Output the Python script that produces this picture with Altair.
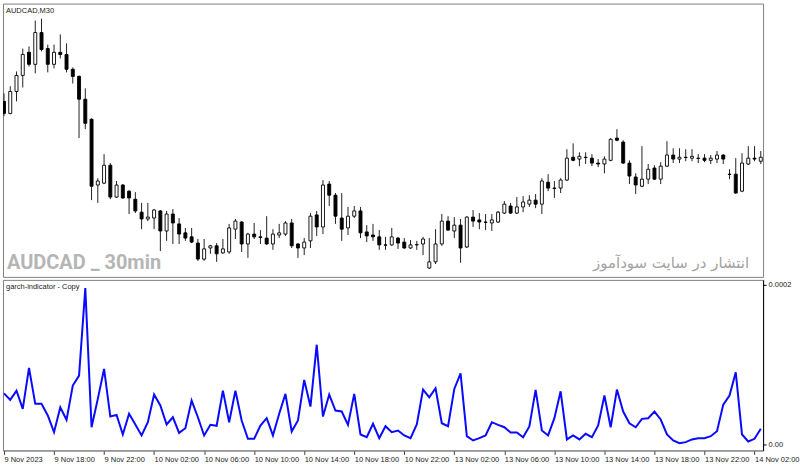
import altair as alt
import pandas as pd

# ---- AUDCAD M30 candles (bar index 0 = 9 Nov 2023 14:00) ----
OPEN = [0.88199, 0.88160, 0.88231, 0.88283, 0.88358, 0.88319, 0.88422, 0.88370, 0.88319, 0.88358,
        0.88351, 0.88303, 0.88280, 0.88206, 0.88141, 0.87928, 0.87934, 0.87992, 0.87889, 0.87928,
        0.87908, 0.87882, 0.87840, 0.87818, 0.87821, 0.87844, 0.87779, 0.87834, 0.87802, 0.87773,
        0.87760, 0.87740, 0.87688, 0.87724, 0.87731, 0.87708, 0.87711, 0.87785, 0.87808, 0.87737,
        0.87769, 0.87760, 0.87756, 0.87737, 0.87766, 0.87769, 0.87805, 0.87737, 0.87724, 0.87747,
        0.87831, 0.87792, 0.87931, 0.87895, 0.87821, 0.87789, 0.87827, 0.87844, 0.87776, 0.87766,
        0.87760, 0.87734, 0.87734, 0.87756, 0.87743, 0.87724, 0.87734, 0.87737, 0.87659, 0.87679,
        0.87737, 0.87811, 0.87779, 0.87798, 0.87727, 0.87824, 0.87815, 0.87808, 0.87805, 0.87808,
        0.87837, 0.87860, 0.87837, 0.87857, 0.87866, 0.87879, 0.87866, 0.87937, 0.87918, 0.87918,
        0.87944, 0.88018, 0.88012, 0.88018, 0.88015, 0.87999, 0.87996, 0.88008, 0.88080, 0.88067,
        0.87999, 0.87954, 0.87924, 0.87947, 0.87983, 0.87947, 0.87989, 0.88025, 0.88012, 0.88018,
        0.88015, 0.88015, 0.88015, 0.88008, 0.88012, 0.88025, 0.87963, 0.87963, 0.87908, 0.87996,
        0.88015, 0.88005]
HIGH = [0.88225, 0.88248, 0.88296, 0.88370, 0.88377, 0.88461, 0.88467, 0.88383, 0.88383, 0.88416,
        0.88387, 0.88309, 0.88283, 0.88241, 0.88144, 0.87950, 0.88028, 0.87999, 0.87941, 0.87931,
        0.87911, 0.87905, 0.87870, 0.87870, 0.87850, 0.87847, 0.87844, 0.87850, 0.87821, 0.87789,
        0.87789, 0.87753, 0.87753, 0.87734, 0.87740, 0.87753, 0.87802, 0.87818, 0.87811, 0.87773,
        0.87805, 0.87782, 0.87827, 0.87785, 0.87802, 0.87811, 0.87818, 0.87740, 0.87756, 0.87837,
        0.87844, 0.87944, 0.87941, 0.87902, 0.87902, 0.87857, 0.87860, 0.87857, 0.87798, 0.87802,
        0.87782, 0.87760, 0.87789, 0.87760, 0.87756, 0.87750, 0.87747, 0.87760, 0.87756, 0.87785,
        0.87834, 0.87827, 0.87824, 0.87818, 0.87827, 0.87847, 0.87837, 0.87834, 0.87834, 0.87844,
        0.87876, 0.87870, 0.87889, 0.87892, 0.87895, 0.87899, 0.87950, 0.87963, 0.87941, 0.87950,
        0.88044, 0.88063, 0.88034, 0.88034, 0.88028, 0.88012, 0.88021, 0.88080, 0.88109, 0.88073,
        0.88008, 0.87966, 0.88054, 0.87996, 0.87992, 0.88002, 0.88070, 0.88047, 0.88047, 0.88044,
        0.88044, 0.88028, 0.88028, 0.88025, 0.88038, 0.88028, 0.87979, 0.88015, 0.88031, 0.88054,
        0.88054, 0.88038]
LOW = [0.88151, 0.88157, 0.88199, 0.88244, 0.88312, 0.88290, 0.88361, 0.88293, 0.88306, 0.88338,
       0.88293, 0.88257, 0.88080, 0.88109, 0.87879, 0.87870, 0.87931, 0.87882, 0.87886, 0.87883,
       0.87834, 0.87837, 0.87785, 0.87811, 0.87785, 0.87714, 0.87747, 0.87737, 0.87737, 0.87747,
       0.87740, 0.87682, 0.87682, 0.87705, 0.87679, 0.87705, 0.87705, 0.87753, 0.87711, 0.87692,
       0.87753, 0.87737, 0.87734, 0.87718, 0.87756, 0.87763, 0.87724, 0.87692, 0.87701, 0.87724,
       0.87763, 0.87769, 0.87860, 0.87802, 0.87747, 0.87766, 0.87821, 0.87756, 0.87743, 0.87747,
       0.87718, 0.87718, 0.87731, 0.87721, 0.87721, 0.87721, 0.87718, 0.87701, 0.87656, 0.87672,
       0.87731, 0.87779, 0.87756, 0.87676, 0.87724, 0.87792, 0.87785, 0.87782, 0.87779, 0.87805,
       0.87834, 0.87834, 0.87834, 0.87840, 0.87857, 0.87853, 0.87834, 0.87908, 0.87886, 0.87902,
       0.87941, 0.88005, 0.87989, 0.87996, 0.87989, 0.87986, 0.87966, 0.88005, 0.88070, 0.87996,
       0.87931, 0.87899, 0.87921, 0.87931, 0.87944, 0.87931, 0.87986, 0.87999, 0.87999, 0.88005,
       0.88005, 0.87999, 0.88002, 0.87996, 0.87999, 0.87996, 0.87947, 0.87899, 0.87905, 0.87993,
       0.88005, 0.87996]
CLOSE = [0.88160, 0.88231, 0.88283, 0.88351, 0.88319, 0.88422, 0.88367, 0.88319, 0.88358, 0.88351,
         0.88303, 0.88280, 0.88206, 0.88128, 0.87924, 0.87941, 0.87992, 0.87889, 0.87928, 0.87886,
         0.87886, 0.87844, 0.87818, 0.87824, 0.87847, 0.87779, 0.87834, 0.87805, 0.87769, 0.87756,
         0.87743, 0.87688, 0.87721, 0.87731, 0.87705, 0.87721, 0.87789, 0.87811, 0.87737, 0.87769,
         0.87760, 0.87758, 0.87737, 0.87769, 0.87773, 0.87805, 0.87731, 0.87724, 0.87743, 0.87827,
         0.87792, 0.87928, 0.87895, 0.87827, 0.87785, 0.87827, 0.87844, 0.87773, 0.87763, 0.87760,
         0.87734, 0.87733, 0.87760, 0.87740, 0.87724, 0.87734, 0.87735, 0.87753, 0.87679, 0.87737,
         0.87811, 0.87782, 0.87798, 0.87724, 0.87824, 0.87811, 0.87808, 0.87807, 0.87815, 0.87840,
         0.87866, 0.87837, 0.87857, 0.87873, 0.87879, 0.87866, 0.87941, 0.87918, 0.87917, 0.87944,
         0.88015, 0.88008, 0.88021, 0.88017, 0.87999, 0.87996, 0.88012, 0.88076, 0.88073, 0.87999,
         0.87957, 0.87928, 0.87947, 0.87979, 0.87947, 0.87989, 0.88025, 0.88012, 0.88018, 0.88017,
         0.88021, 0.88014, 0.88008, 0.88015, 0.88025, 0.88012, 0.87962, 0.87902, 0.87999, 0.88015,
         0.88012, 0.88018]

# ---- garch-indicator values ----
GARCH = [6.41e-5, 5.59e-5, 6.75e-5, 4.46e-5, 9.59e-5, 5.09e-5, 5.09e-5, 3.63e-5, 1.54e-5, 4.66e-5,
         3.09e-5, 7.38e-5, 8.63e-5, 1.959e-4, 2.16e-5, 5.71e-5, 9.46e-5, 3.50e-5, 3.71e-5, 1.25e-5,
         3.84e-5, 2.50e-5, 1.13e-5, 2.79e-5, 6.25e-5, 4.88e-5, 2.50e-5, 3.41e-5, 1.46e-5, 2.04e-5,
         5.50e-5, 3.41e-5, 1.13e-5, 2.46e-5, 2.34e-5, 6.75e-5, 2.79e-5, 6.75e-5, 3.00e-5, 0.71e-5,
         0.71e-5, 2.38e-5, 3.29e-5, 1.13e-5, 3.84e-5, 6.34e-5, 1.63e-5, 3.00e-5, 8.09e-5, 4.75e-5,
         1.250e-4, 3.50e-5, 6.25e-5, 4.25e-5, 4.13e-5, 2.46e-5, 6.34e-5, 1.25e-5, 0.91e-5, 2.59e-5,
         0.79e-5, 2.29e-5, 1.54e-5, 1.75e-5, 1.13e-5, 0.79e-5, 2.50e-5, 6.88e-5, 5.91e-5, 7.04e-5,
         2.66e-5, 2.29e-5, 6.96e-5, 8.91e-5, 1.04e-5, 0.50e-5, 0.79e-5, 1.13e-5, 2.79e-5, 2.46e-5,
         2.16e-5, 1.50e-5, 1.50e-5, 0.91e-5, 2.25e-5, 6.84e-5, 1.75e-5, 1.13e-5, 3.29e-5, 6.66e-5,
         0.63e-5, 1.13e-5, 0.63e-5, 1.34e-5, 0.91e-5, 2.38e-5, 6.13e-5, 2.16e-5, 6.88e-5, 4.13e-5,
         2.66e-5, 2.16e-5, 3.21e-5, 3.29e-5, 4.13e-5, 3.13e-5, 1.25e-5, 0.50e-5, 0.16e-5, 0.29e-5,
         0.63e-5, 0.79e-5, 0.79e-5, 1.04e-5, 1.66e-5, 5.00e-5, 6.13e-5, 9.04e-5, 1.25e-5, 0.38e-5,
         0.71e-5, 1.96e-5]

PRICE_TICKS = [0.87640, 0.87725, 0.87810, 0.87895, 0.87980, 0.88065,
               0.88150, 0.88235, 0.88320, 0.88405, 0.88490]
GARCH_TICKS = [0.0, 0.0002]
TIME_TICK_BARS = [0, 8, 16, 24, 32, 40, 48, 56, 64, 72, 80, 88, 96, 104, 112, 120]
TIME_LABELS = ["9 Nov 2023", "9 Nov 18:00", "9 Nov 22:00", "10 Nov 02:00", "10 Nov 06:00",
               "10 Nov 10:00", "10 Nov 14:00", "10 Nov 18:00", "10 Nov 22:00", "13 Nov 02:00",
               "13 Nov 06:00", "13 Nov 10:00", "13 Nov 14:00", "13 Nov 18:00", "13 Nov 22:00",
               "14 Nov 02:00"]

SYMBOL_TITLE = "AUDCAD,M30"
IND_TITLE = "garch-indicator - Copy"
WATERMARK_1 = "AUDCAD _ 30min"
WATERMARK_2 = "انتشار در سایت سودآموز"

n = len(OPEN)
df = pd.DataFrame({"i": list(range(n)), "open": OPEN, "high": HIGH, "low": LOW,
                   "close": CLOSE, "garch": GARCH})
df["up"] = df["close"] >= df["open"]

W = 762
H_MAIN = 274
H_IND = 171
FONT = "Liberation Sans"

xscale = alt.Scale(domain=[-0.16, 121.37], nice=False, zero=False, padding=0)
yscale = alt.Scale(domain=[0.876303, 0.885159], nice=False, zero=False, padding=0)
gscale = alt.Scale(domain=[-0.0000075, 0.00020625], nice=False, zero=False, padding=0)

price_axis = alt.Axis(orient="right", values=PRICE_TICKS, format=".5f", title=None, grid=False,
                      tickSize=3, labelPadding=2, domainColor="#000000", tickColor="#000000",
                      labelFont=FONT, labelFontSize=7.5, labelColor="#222222")

wicks = alt.Chart(df).mark_rule(color="#222222", strokeWidth=1, clip=True).encode(
    x=alt.X("i:Q", scale=xscale, axis=None),
    y=alt.Y("low:Q", scale=yscale, axis=price_axis),
    y2="high:Q",
)
bodies = alt.Chart(df).mark_bar(size=3, stroke="#000000", strokeWidth=0.9, clip=True).encode(
    x=alt.X("i:Q", scale=xscale, axis=None),
    y=alt.Y("open:Q", scale=yscale, axis=None),
    y2="close:Q",
    fill=alt.condition("datum.up", alt.value("#ffffff"), alt.value("#000000")),
)

title_main = alt.Chart(pd.DataFrame({"t": [SYMBOL_TITLE]})).mark_text(
    align="left", baseline="middle", font=FONT, fontSize=7.5, color="#222222"
).encode(x=alt.value(3), y=alt.value(7), text="t:N")

wm1 = alt.Chart(pd.DataFrame({"t": [WATERMARK_1]})).mark_text(
    align="left", baseline="alphabetic", font="Roboto",
    fontSize=20, fontWeight="bold", color="#b5b5b5"
).encode(x=alt.value(4), y=alt.value(266), text="t:N")

wm2 = alt.Chart(pd.DataFrame({"t": [WATERMARK_2]})).mark_text(
    align="right", baseline="alphabetic", font="DejaVu Sans", fontSize=15, color="#a2a2a2"
).encode(x=alt.value(748), y=alt.value(265), text="t:N")

main = alt.layer(wm1, wm2, wicks, bodies, title_main).properties(width=W, height=H_MAIN)

time_axis = alt.Axis(values=TIME_TICK_BARS,
                     labelExpr="[" + ",".join("'" + s + "'" for s in TIME_LABELS) + "][round(datum.value/8)]",
                     labelAlign="left", labelFlush=False, labelOverlap=False, labelBound=False,
                     title=None, grid=False, tickSize=4, labelPadding=1,
                     domainColor="#808080", tickColor="#444444",
                     labelFont=FONT, labelFontSize=7.5, labelColor="#222222")

garch_axis = alt.Axis(orient="right", values=GARCH_TICKS,
                      labelExpr="datum.value == 0 ? '0.00' : '0.0002'", title=None, grid=False,
                      tickSize=3, labelPadding=2, domainColor="#000000", tickColor="#000000",
                      labelFont=FONT, labelFontSize=7.5, labelColor="#222222")

gline = alt.Chart(df).mark_line(color="#0a0aff", strokeWidth=2, clip=True).encode(
    x=alt.X("i:Q", scale=xscale, axis=time_axis),
    y=alt.Y("garch:Q", scale=gscale, axis=garch_axis),
)
title_ind = alt.Chart(pd.DataFrame({"t": [IND_TITLE]})).mark_text(
    align="left", baseline="middle", font=FONT, fontSize=7.5, color="#222222"
).encode(x=alt.value(3), y=alt.value(7), text="t:N")

ind = alt.layer(gline, title_ind).properties(width=W, height=H_IND)

chart = alt.vconcat(main, ind, spacing=3, bounds="flush").properties(
    padding={"left": 2, "top": 2, "right": 0, "bottom": 0},
    background="#ffffff",
).configure_view(stroke="#808080", strokeWidth=1)

chart.save("out.html", embed_options={"renderer": "svg", "actions": False})
